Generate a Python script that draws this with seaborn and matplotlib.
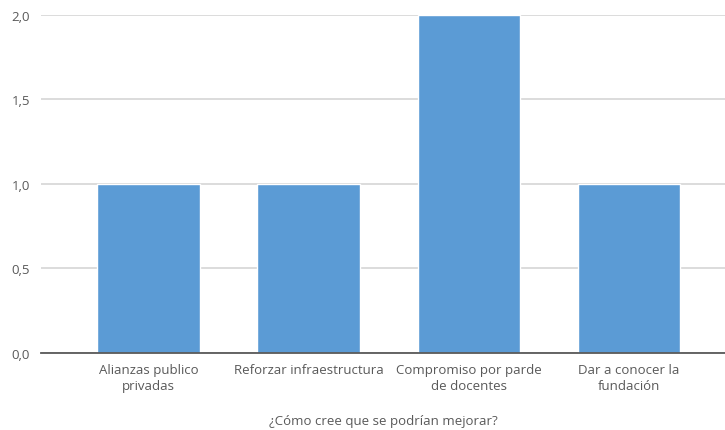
import matplotlib
matplotlib.use("Agg")
import matplotlib.pyplot as plt
import seaborn as sns
import pandas as pd

# =========================
# DATA
# =========================
categories = [
    "Alianzas publico\nprivadas",
    "Reforzar infraestructura",
    "Compromiso por parde\nde docentes",
    "Dar a conocer la\nfundación",
]
values = [1, 1, 2, 1]
y_ticks = [0.0, 0.5, 1.0, 1.5, 2.0]
y_tick_labels = ["0,0", "0,5", "1,0", "1,5", "2,0"]
x_title = "¿Cómo cree que se podrían mejorar?"

df = pd.DataFrame({"categoria": categories, "valor": values})

# =========================
# STYLE
# =========================
sns.set_style("white")
plt.rcParams["font.family"] = ["Open Sans", "DejaVu Sans"]
text_color = "#595959"

fig = plt.figure(figsize=(7.25, 4.31), dpi=100)
ax = fig.add_axes([0.0566, 0.1787, 0.9434, 0.7842])

sns.barplot(data=df, x="categoria", y="valor", color="#5B9BD5",
            width=0.64, saturation=1, ax=ax, zorder=3)

# =========================
# AXES
# =========================
ax.set_ylim(0, 2.0)
ax.set_xlim(-0.672, 3.6)
ax.set_yticks(y_ticks)
ax.set_yticklabels(y_tick_labels)
ax.yaxis.grid(True, color="#d9d9d9", linewidth=1.3, zorder=0)
ax.xaxis.grid(False)

for side in ["top", "right", "left"]:
    ax.spines[side].set_visible(False)
ax.spines["bottom"].set_color("#595959")
ax.spines["bottom"].set_linewidth(1.3)
ax.spines["bottom"].set_zorder(4)

ax.tick_params(axis="both", length=0, colors=text_color, labelsize=9.5)
ax.tick_params(axis="y", pad=8)
ax.tick_params(axis="x", pad=7)
for lbl in ax.get_xticklabels():
    lbl.set_linespacing(1.3)

ax.set_ylabel("")
ax.set_xlabel(x_title, color=text_color, fontsize=9.5, labelpad=16)

fig.savefig("out.png", dpi=100)
plt.close(fig)
